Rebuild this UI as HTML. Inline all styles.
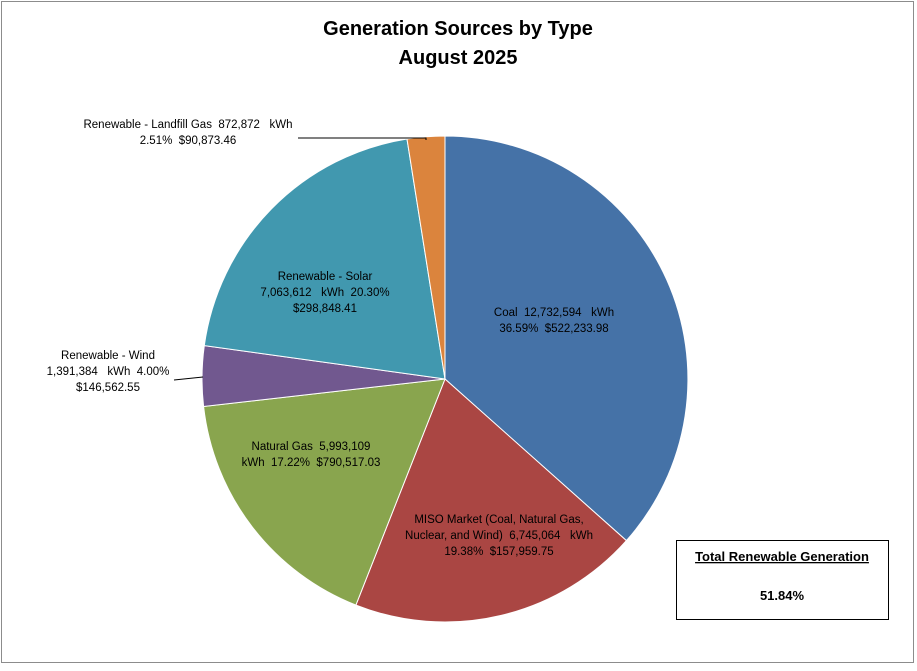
<!DOCTYPE html>
<html><head><meta charset="utf-8"><style>
body{margin:0;background:#fff;width:917px;height:666px;overflow:hidden;font-family:"Liberation Sans",sans-serif}
text{white-space:pre}
</style></head><body>
<svg width="917" height="666" xmlns="http://www.w3.org/2000/svg" font-family="Liberation Sans, sans-serif" xml:space="preserve">
<rect x="1.5" y="1.5" width="912" height="661" fill="#fff" stroke="#8c8c8c"/>
<text x="458" y="35" font-size="20" font-weight="bold" text-anchor="middle">Generation Sources by Type</text>
<text x="458" y="64" font-size="20" font-weight="bold" text-anchor="middle">August 2025</text>
<g stroke="#fff" stroke-width="1">
<path d="M445,379 L445,136 A243,243 0 0 1 626.4,540.6 Z" fill="#4572A7"/>
<path d="M445,379 L626.4,540.6 A243,243 0 0 1 355.9,605.1 Z" fill="#AA4643"/>
<path d="M445,379 L355.9,605.1 A243,243 0 0 1 203.6,406.5 Z" fill="#89A54E"/>
<path d="M445,379 L203.6,406.5 A243,243 0 0 1 204.3,345.6 Z" fill="#71588F"/>
<path d="M445,379 L204.3,345.6 A243,243 0 0 1 407,139 Z" fill="#4198AF"/>
<path d="M445,379 L407,139 A243,243 0 0 1 445,136 Z" fill="#DB843D"/>
</g>
<g stroke="#000" fill="none" stroke-width="1">
<polyline points="298,138 426,138 426,140"/>
<line x1="174" y1="380" x2="203" y2="377"/>
</g>
<g font-size="11.5" text-anchor="middle" fill="#000">
<text x="554" y="316">Coal  12,732,594   kWh</text>
<text x="554" y="332">36.59%  $522,233.98</text>
<text x="499" y="523">MISO Market (Coal, Natural Gas,</text>
<text x="499" y="539">Nuclear, and Wind)  6,745,064   kWh</text>
<text x="499" y="555">19.38%  $157,959.75</text>
<text x="311" y="450">Natural Gas  5,993,109</text>
<text x="311" y="466">kWh  17.22%  $790,517.03</text>
<text x="108" y="359">Renewable - Wind</text>
<text x="108" y="375">1,391,384   kWh  4.00%</text>
<text x="108" y="391">$146,562.55</text>
<text x="325" y="280">Renewable - Solar</text>
<text x="325" y="296">7,063,612   kWh  20.30%</text>
<text x="325" y="312">$298,848.41</text>
<text x="188" y="128">Renewable - Landfill Gas  872,872   kWh</text>
<text x="188" y="144">2.51%  $90,873.46</text>
</g>
<rect x="676.5" y="540.5" width="212" height="79" fill="#fff" stroke="#000"/>
<text x="782" y="561" font-size="13" font-weight="bold" text-anchor="middle" text-decoration="underline">Total Renewable Generation</text>
<text x="782" y="600" font-size="13" font-weight="bold" text-anchor="middle">51.84%</text>
</svg>
</body></html>
